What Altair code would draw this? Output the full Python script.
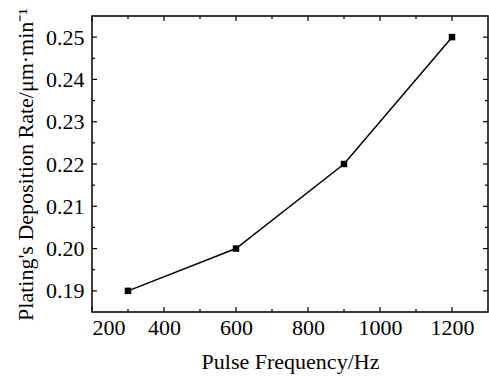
import altair as alt
import pandas as pd

freq = [300, 600, 900, 1200]
rate = [0.19, 0.20, 0.22, 0.25]

x_major = [200, 400, 600, 800, 1000, 1200]
x_minor = [300, 500, 700, 900, 1100]
y_major = [0.19, 0.20, 0.21, 0.22, 0.23, 0.24, 0.25]
y_minor = [0.195, 0.205, 0.215, 0.225, 0.235, 0.245]

df = pd.DataFrame({"freq": freq, "rate": rate})

FONT = "Liberation Serif"
W, H = 396, 296
MAJ, MIN = 5, 3
xs = alt.Scale(domain=[200, 1300], nice=False, zero=False)
ys = alt.Scale(domain=[0.185, 0.255], nice=False, zero=False)

base = alt.Chart(df)

line = base.mark_line(color="black", strokeWidth=1.5).encode(
    x=alt.X("freq:Q", scale=xs,
            axis=alt.Axis(orient="bottom", values=x_major, ticks=False, domain=False,
                          grid=False, format="d", labelFont=FONT, labelFontSize=22,
                          labelColor="black", labelPadding=5,
                          title="Pulse Frequency/Hz", titleFont=FONT,
                          titleFontSize=22, titleFontWeight="normal", titleColor="black",
                          titlePadding=13)),
    y=alt.Y("rate:Q", scale=ys,
            axis=alt.Axis(orient="left", values=y_major, ticks=False, domain=False,
                          grid=False, labelFont=FONT, labelFontSize=22, labelColor="black",
                          labelPadding=8, format=".2f",
                          title="Plating's Deposition Rate/μm·min⁻¹", titleFont=FONT,
                          titleFontSize=22, titleFontWeight="normal", titleColor="black",
                          titlePadding=8)),
)

points = base.mark_point(shape="square", filled=True, size=42, color="black", opacity=1).encode(
    x=alt.X("freq:Q", scale=xs),
    y=alt.Y("rate:Q", scale=ys),
)

tick_style = dict(color="black", strokeWidth=1.2)


def xticks(vals, length, top):
    d = pd.DataFrame({"freq": vals})
    y0 = 0 if top else H
    y1 = length if top else H - length
    return alt.Chart(d).mark_rule(**tick_style).encode(
        x=alt.X("freq:Q", scale=xs),
        y=alt.value(y0), y2=alt.value(y1),
    )


def yticks(vals, length, right):
    d = pd.DataFrame({"rate": vals})
    x0 = W if right else 0
    x1 = W - length if right else length
    return alt.Chart(d).mark_rule(**tick_style).encode(
        y=alt.Y("rate:Q", scale=ys),
        x=alt.value(x0), x2=alt.value(x1),
    )


tick_layers = [
    xticks(x_major, MAJ, False), xticks(x_minor, MIN, False),
    xticks(x_major, MAJ, True), xticks(x_minor, MIN, True),
    yticks(y_major, MAJ, False), yticks(y_minor, MIN, False),
    yticks(y_major, MAJ, True), yticks(y_minor, MIN, True),
]

chart = alt.layer(line, points, *tick_layers).properties(
    width=W, height=H,
    autosize=alt.AutoSizeParams(type="none"),
    padding={"left": 92, "top": 16, "right": 1, "bottom": 66},
    background="white",
).configure_view(stroke="black", strokeWidth=1.5)

chart.save("out.html", embed_options={"renderer": "svg", "actions": False})
